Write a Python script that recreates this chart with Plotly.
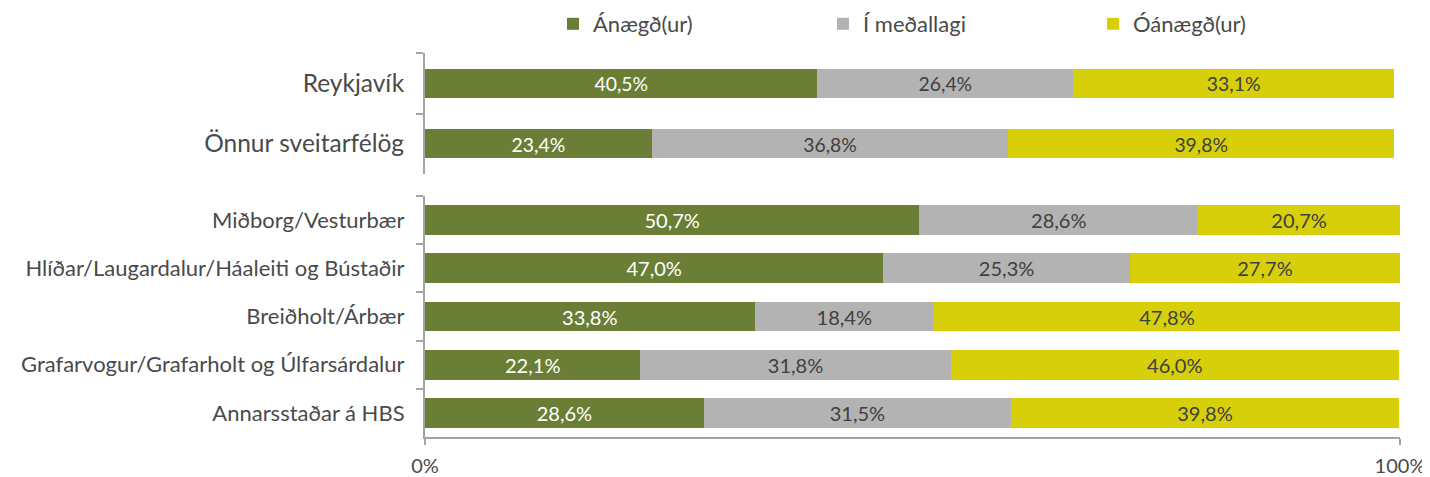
import plotly.graph_objects as go

# page has an 8px body margin: figure is drawn 8px right/down of the screen origin
OFF = 8
SW, SH = 1430, 477
W, H = SW - OFF, SH - OFF

series_names = ["Ánægð(ur)", "Í meðallagi", "Óánægð(ur)"]
colors = ["#6A7F35", "#B3B3B3", "#D6CF0A"]
text_colors = ["#FFFFFF", "#404040", "#404040"]

top_categories = ["Reykjavík", "Önnur sveitarfélög"]
top_satisfied = [40.5, 23.4]
top_neutral = [26.4, 36.8]
top_dissatisfied = [33.1, 39.8]

bot_categories = [
    "Miðborg/Vesturbær",
    "Hlíðar/Laugardalur/Háaleiti og Bústaðir",
    "Breiðholt/Árbær",
    "Grafarvogur/Grafarholt og Úlfarsárdalur",
    "Annarsstaðar á HBS",
]
bot_satisfied = [50.7, 47.0, 33.8, 22.1, 28.6]
bot_neutral = [28.6, 25.3, 18.4, 31.8, 31.5]
bot_dissatisfied = [20.7, 27.7, 47.8, 46.0, 39.8]

x_tick_vals = [0, 100]
x_tick_text = ["0%", "100%"]

FONT = "Lato"
TXT = "#4A4A4A"


def fmt(vals):
    return [f"{v:.1f}%".replace(".", ",") for v in vals]


def px_x(sx):
    return (sx - OFF) / W


def px_y(sy):
    return 1 - (sy - OFF) / H


fig = go.Figure()

top_series = [top_satisfied, top_neutral, top_dissatisfied]
bot_series = [bot_satisfied, bot_neutral, bot_dissatisfied]

for i, name in enumerate(series_names):
    fig.add_trace(go.Bar(
        y=top_categories, x=top_series[i], orientation="h", name=name,
        marker=dict(color=colors[i], line=dict(width=0)),
        text=fmt(top_series[i]), textposition="inside", insidetextanchor="middle",
        textfont=dict(color=text_colors[i], size=21, family=FONT),
        xaxis="x", yaxis="y", width=0.48, showlegend=True, legendgroup=name,
        hoverinfo="skip",
    ))
for i, name in enumerate(series_names):
    fig.add_trace(go.Bar(
        y=bot_categories, x=bot_series[i], orientation="h", name=name,
        marker=dict(color=colors[i], line=dict(width=0)),
        text=fmt(bot_series[i]), textposition="inside", insidetextanchor="middle",
        textfont=dict(color=text_colors[i], size=21, family=FONT),
        xaxis="x2", yaxis="y2", width=0.62, showlegend=False, legendgroup=name,
        hoverinfo="skip",
    ))

axis_gray = "#A3A3A3"

fig.update_layout(
    width=W, height=H,
    barmode="stack",
    margin=dict(l=0, r=0, t=0, b=0, autoexpand=False),
    paper_bgcolor="white", plot_bgcolor="white",
    font=dict(family=FONT, color=TXT, size=17),
    uniformtext=dict(mode=False),
    legend=dict(
        orientation="h", x=px_x(553), y=px_y(24), xanchor="left", yanchor="middle",
        font=dict(size=22, color=TXT), entrywidth=225, entrywidthmode="pixels",
        traceorder="normal", itemclick=False,
    ),
    xaxis=dict(
        domain=[px_x(425), px_x(1394)], range=[0, 100], anchor="y", automargin=False,
        showline=False, showgrid=False, zeroline=False, showticklabels=False, ticks="",
    ),
    yaxis=dict(
        domain=[px_y(174), px_y(53)], anchor="x", autorange="reversed", automargin=False,
        showline=True, linecolor=axis_gray, linewidth=2, showgrid=False,
        ticks="outside", tickson="boundaries", ticklen=7, tickcolor=axis_gray, tickwidth=2,
        tickfont=dict(size=24.5, color=TXT), ticklabelstandoff=14,
    ),
    xaxis2=dict(
        domain=[px_x(425), px_x(1400)], range=[0, 100], anchor="y2", automargin=False,
        showline=True, linecolor=axis_gray, linewidth=2, showgrid=False, zeroline=False,
        tickmode="array", tickvals=x_tick_vals, ticktext=x_tick_text,
        ticks="outside", ticklen=6, tickcolor=axis_gray, tickwidth=2,
        tickfont=dict(size=20, color=TXT), ticklabelstandoff=4,
    ),
    yaxis2=dict(
        domain=[px_y(437), px_y(196)], anchor="x2", autorange="reversed", automargin=False,
        showline=True, linecolor=axis_gray, linewidth=2, showgrid=False,
        ticks="outside", tickson="boundaries", ticklen=7, tickcolor=axis_gray, tickwidth=2,
        tickfont=dict(size=22, color=TXT), ticklabelstandoff=14,
    ),
)

fig.write_html("out.html")
